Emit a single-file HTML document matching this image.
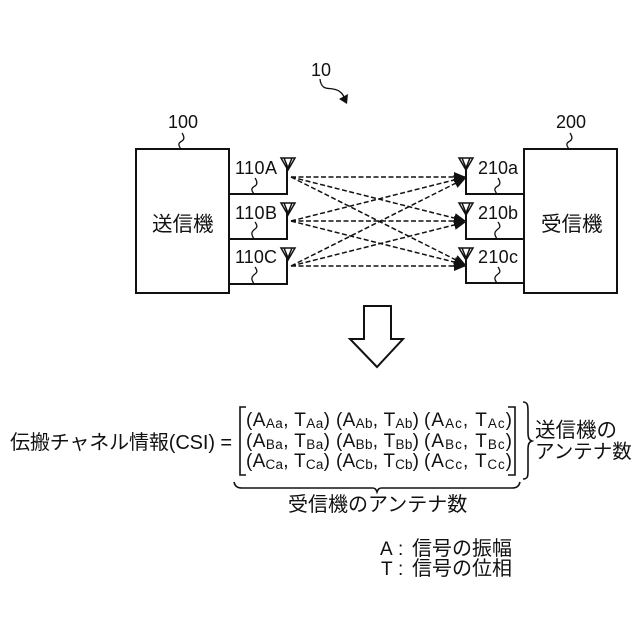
<!DOCTYPE html>
<html><head><meta charset="utf-8"><style>
html,body{margin:0;padding:0;background:#fff}
svg{display:block}
text{font-family:"Liberation Sans","Noto Sans CJK JP",sans-serif;fill:#111}
.s{font-size:13.5px}
</style></head><body>
<svg width="640" height="640" viewBox="0 0 640 640" xmlns="http://www.w3.org/2000/svg">
<defs><marker id="a" markerWidth="14" markerHeight="12" refX="12" refY="5" orient="auto" markerUnits="userSpaceOnUse"><path d="M0 0L12 5L0 10Z" fill="#111"/></marker></defs>
<g fill="none" stroke="#111" stroke-width="2">
<rect x="136" y="149" width="93" height="144"/>
<rect x="524" y="149" width="93" height="144"/>
<path d="M229 194H287V167M229 239H287V212M229 284H287V257"/>
<path d="M524 194H466V167M524 239H466V212M524 283H466V257"/>
</g>
<g fill="none" stroke="#111" stroke-width="1.5">
<path d="M281 158H295L288 170Z M284 158L288 168L292 158"/>
<path d="M281 203H295L288 215Z M284 203L288 213L292 203"/>
<path d="M281 248H295L288 260Z M284 248L288 258L292 248"/>
<path d="M459 158H473L466 170Z M462 158L466 168L470 158"/>
<path d="M459 203H473L466 215Z M462 203L466 213L470 203"/>
<path d="M459 248H473L466 260Z M462 248L466 258L470 248"/>
</g>
<g fill="none" stroke="#111" stroke-width="1.5" stroke-dasharray="5 2.5" marker-end="url(#a)">
<path d="M291 177H466"/><path d="M291 177L466 221"/><path d="M291 177L466 265"/>
<path d="M291 221L466 177"/><path d="M291 221H466"/><path d="M291 221L466 265"/>
<path d="M291 266L466 178"/><path d="M291 266L466 222"/><path d="M291 266H466"/>
</g>
<g fill="none" stroke="#111" stroke-width="1.3">
<path d="M181 149C178 145 178 143 182 141C185 139 184 136 182 133"/>
<path d="M569 149C566 145 566 143 570 141C573 139 572 136 570 133"/>
<path d="M254 194C251 190 251 188 255 186C258 184 257 181 255 178"/>
<path d="M254 239C251 234 251 232 255 229C258 227 257 225 255 222"/>
<path d="M254 284C251 279 251 277 255 274C258 272 257 270 255 267"/>
<path d="M497 194C494 190 494 188 498 186C501 184 500 181 498 178"/>
<path d="M497 239C494 234 494 232 498 229C501 227 500 225 498 222"/>
<path d="M497 283C494 279 494 277 498 274C501 272 500 270 498 267"/>
<path d="M320 79C321 90 328 88 333 89C340 90 343 94 345 99"/>
</g>
<path d="M339 99L348 94L347 104Z" fill="#111"/>
<path d="M364 306H391V339H403L377 367L350 339H364Z" fill="#fff" stroke="#111" stroke-width="2"/>
<text x="311" y="76" font-size="18" textLength="20">10</text>
<text x="168" y="128" font-size="18" textLength="30">100</text>
<text x="556" y="128" font-size="18" textLength="30">200</text>
<text x="235" y="174" font-size="18" textLength="42">110A</text>
<text x="235" y="219" font-size="18" textLength="42">110B</text>
<text x="235" y="263" font-size="18" textLength="42">110C</text>
<text x="478" y="174" font-size="18" textLength="40">210a</text>
<text x="478" y="219" font-size="18" textLength="40">210b</text>
<text x="478" y="263" font-size="18" textLength="40">210c</text>
<text x="152" y="231" font-size="20.5">送信機</text>
<text x="541" y="231" font-size="20.5">受信機</text>
<text x="10" y="449" font-size="20" textLength="222">伝搬チャネル情報(CSI) =</text>
<g fill="none" stroke="#111" stroke-width="1.6">
<path d="M246 407H240V475H246"/>
<path d="M508 407H515V475H508"/>
<path d="M523 402C528 402 528 406 528 412V432C528 438 529 440 532 441C529 442 528 444 528 450V470C528 476 528 479 523 479"/>
<path d="M234 482C235 486 237 488 242 488H372C375 488 376 489 377 492C378 489 379 488 382 488H512C517 488 519 486 520 482"/>
</g>
<g font-size="19">
<text x="246" y="426" textLength="84">(A<tspan class="s" dy="2">Aa</tspan><tspan dy="-2">, T</tspan><tspan class="s" dy="2">Aa</tspan><tspan dy="-2">)</tspan></text>
<text x="336" y="426" textLength="83">(A<tspan class="s" dy="2">Ab</tspan><tspan dy="-2">, T</tspan><tspan class="s" dy="2">Ab</tspan><tspan dy="-2">)</tspan></text>
<text x="424" y="426" textLength="88">(A<tspan class="s" dy="2">Ac</tspan><tspan dy="-2">, T</tspan><tspan class="s" dy="2">Ac</tspan><tspan dy="-2">)</tspan></text>
<text x="246" y="447" textLength="84">(A<tspan class="s" dy="2">Ba</tspan><tspan dy="-2">, T</tspan><tspan class="s" dy="2">Ba</tspan><tspan dy="-2">)</tspan></text>
<text x="336" y="447" textLength="83">(A<tspan class="s" dy="2">Bb</tspan><tspan dy="-2">, T</tspan><tspan class="s" dy="2">Bb</tspan><tspan dy="-2">)</tspan></text>
<text x="424" y="447" textLength="88">(A<tspan class="s" dy="2">Bc</tspan><tspan dy="-2">, T</tspan><tspan class="s" dy="2">Bc</tspan><tspan dy="-2">)</tspan></text>
<text x="246" y="467" textLength="84">(A<tspan class="s" dy="2">Ca</tspan><tspan dy="-2">, T</tspan><tspan class="s" dy="2">Ca</tspan><tspan dy="-2">)</tspan></text>
<text x="336" y="467" textLength="83">(A<tspan class="s" dy="2">Cb</tspan><tspan dy="-2">, T</tspan><tspan class="s" dy="2">Cb</tspan><tspan dy="-2">)</tspan></text>
<text x="424" y="467" textLength="88">(A<tspan class="s" dy="2">Cc</tspan><tspan dy="-2">, T</tspan><tspan class="s" dy="2">Cc</tspan><tspan dy="-2">)</tspan></text>
</g>
<text x="535" y="437" font-size="20.5">送信機の</text>
<text x="535" y="458" font-size="19.5">アンテナ数</text>
<text x="288" y="511" font-size="20">受信機のアンテナ数</text>
<text x="380" y="555" font-size="19">A</text><text x="398" y="555" font-size="19">:</text><text x="412" y="555" font-size="20">信号の振幅</text>
<text x="381" y="575" font-size="19">T</text><text x="398" y="575" font-size="19">:</text><text x="412" y="575" font-size="20">信号の位相</text>
</svg>
</body></html>
